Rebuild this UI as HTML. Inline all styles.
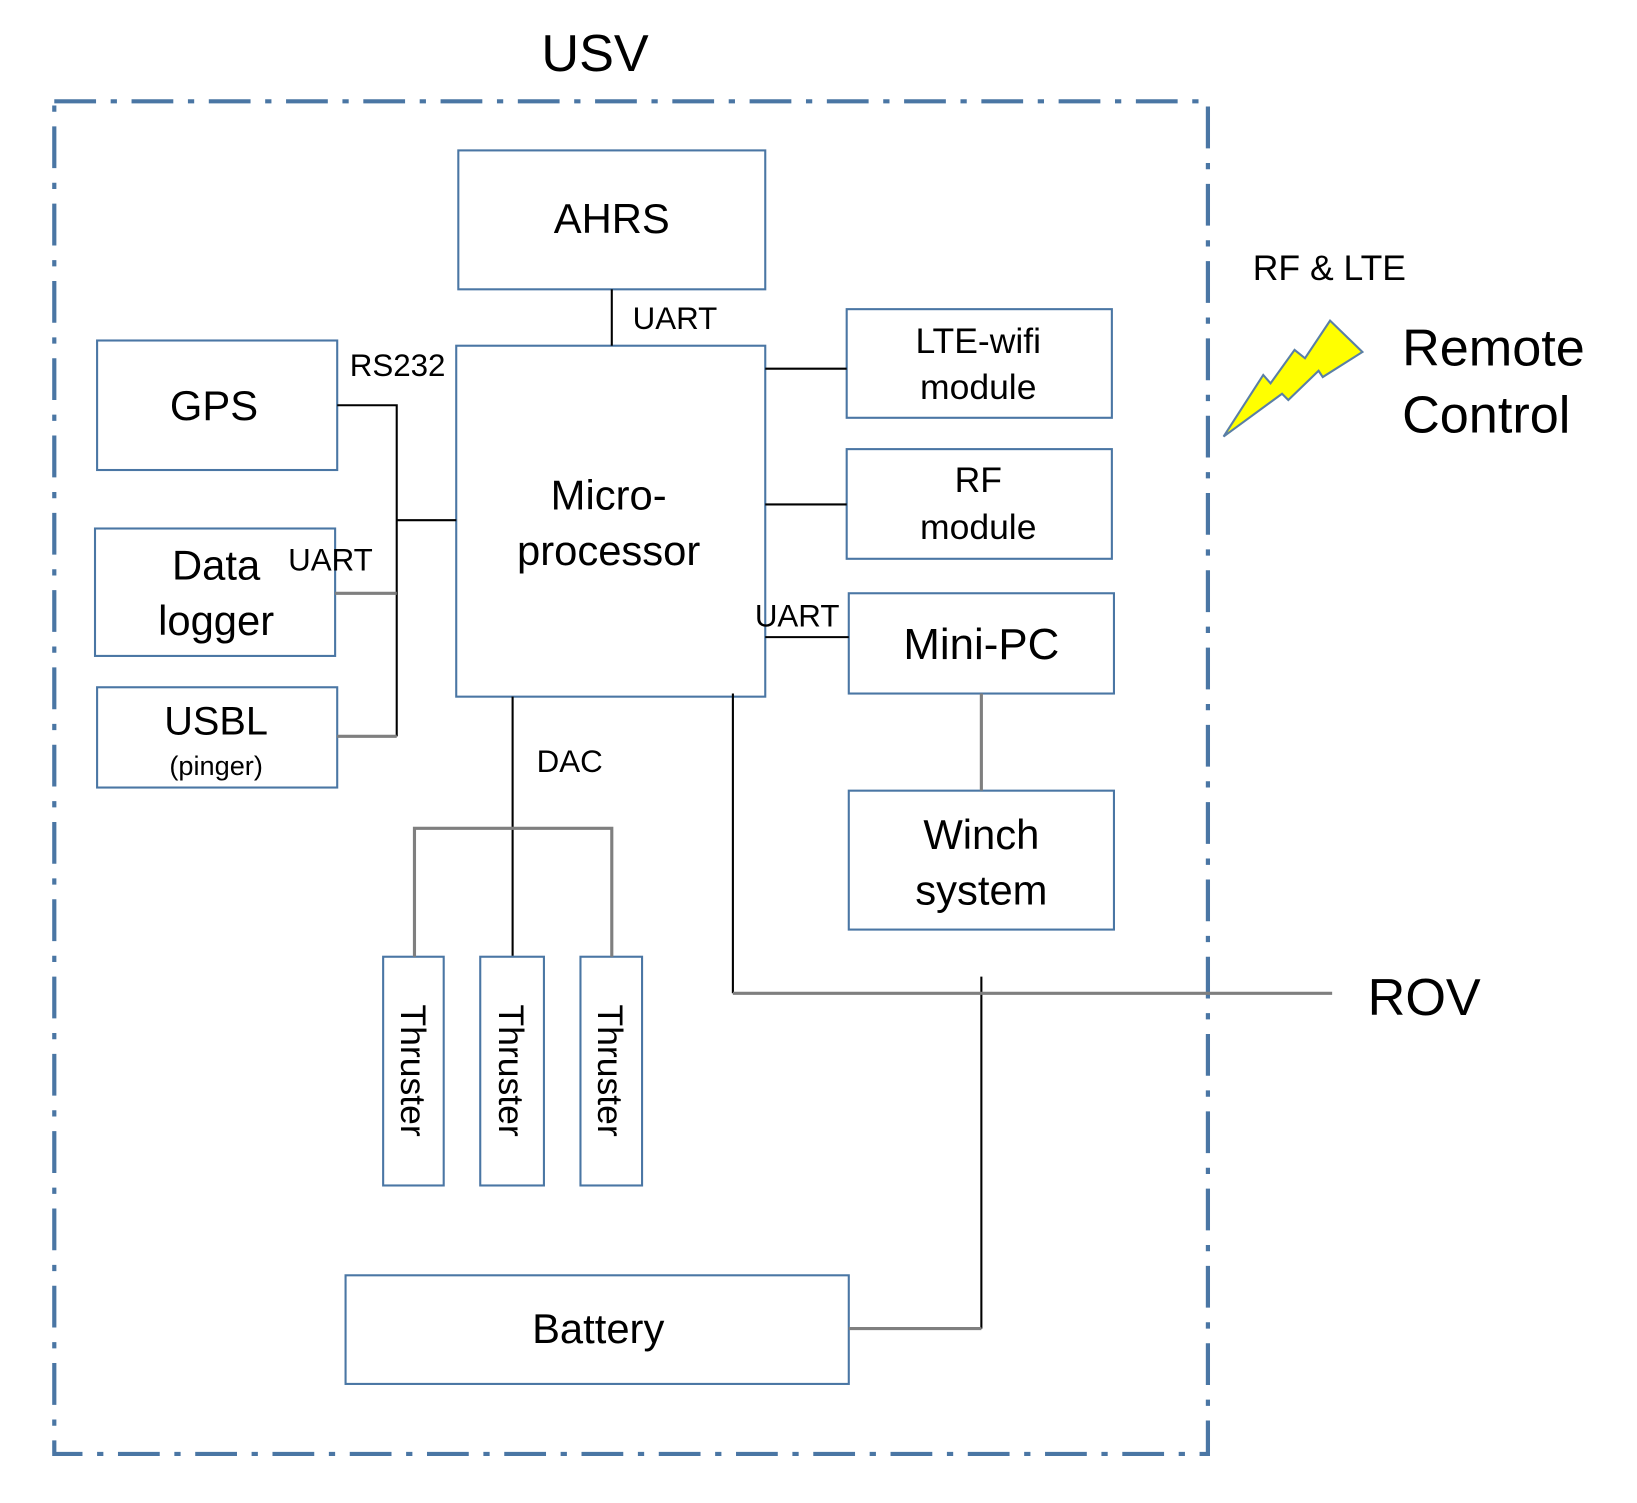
<!DOCTYPE html>
<html><head><meta charset="utf-8"><style>html,body{margin:0;padding:0;background:#fff}svg{display:block}</style></head>
<body>
<svg width="1637" height="1503" viewBox="0 0 1568 1439" preserveAspectRatio="none" xmlns="http://www.w3.org/2000/svg" font-family="Liberation Sans, DejaVu Sans, sans-serif">
<rect x="0" y="0" width="1568" height="1439" fill="#fff"/>
<text x="570" y="68" font-size="50" text-anchor="middle" fill="#000">USV</text>
<rect x="52" y="97" width="1105" height="1295" fill="none" stroke="#4a76a4" stroke-width="4" stroke-dasharray="40,14,6,14"/>
<g fill="#fff" stroke="#4a76a4" stroke-width="2">
<rect x="439" y="144" width="294" height="133"/>
<rect x="437" y="331" width="296" height="336"/>
<rect x="93" y="326" width="230" height="124"/>
<rect x="91" y="506" width="230" height="122"/>
<rect x="93" y="658" width="230" height="96"/>
<rect x="811" y="296" width="254" height="104"/>
<rect x="811" y="430" width="254" height="105"/>
<rect x="813" y="568" width="254" height="96"/>
<rect x="813" y="757" width="254" height="133"/>
<rect x="367" y="916" width="58" height="219"/>
<rect x="460" y="916" width="61" height="219"/>
<rect x="556" y="916" width="59" height="219"/>
<rect x="331" y="1221" width="482" height="104"/>
</g>
<g fill="none" stroke="#000" stroke-width="2">
<path d="M586 277V331"/>
<path d="M323 388H380V705M380 498H437"/>
<path d="M733 353H811M733 483H811M733 610H813"/>
<path d="M491 667V915"/>
<path d="M702 664V951"/>
<path d="M940 935V1272"/>
</g>
<g fill="none" stroke="#7f7f7f" stroke-width="3">
<path d="M321 568H380M323 705H380"/>
<path d="M940 664V757"/>
<path d="M397 916V793H586V916"/>
<path d="M702 951H1276"/>
<path d="M813 1272H940"/>
</g>
<polygon points="1172,418 1210,359 1217,367 1240,335 1250,343 1274,307 1305,337 1267,361 1263,355 1234,383 1228,377" fill="#ffff00" stroke="#5a7fa6" stroke-width="2"/>
<g fill="#000" text-anchor="middle">
<text x="586" y="223" font-size="40">AHRS</text>
<text x="583" y="488" font-size="40">Micro-</text>
<text x="583" y="541" font-size="40">processor</text>
<text x="205" y="402" font-size="40">GPS</text>
<text x="207" y="555" font-size="40">Data</text>
<text x="207" y="608" font-size="40">logger</text>
<text x="207" y="703" font-size="38">USBL</text>
<text x="207" y="742" font-size="26">(pinger)</text>
<text x="937" y="338" font-size="34">LTE-wifi</text>
<text x="937" y="382" font-size="34">module</text>
<text x="937" y="471" font-size="34">RF</text>
<text x="937" y="516" font-size="34">module</text>
<text x="940" y="631" font-size="42">Mini-PC</text>
<text x="940" y="813" font-size="40">Winch</text>
<text x="940" y="866" font-size="40">system</text>
<text x="573" y="1286" font-size="40">Battery</text>
</g>
<g fill="#000" font-size="30">
<text x="606" y="315">UART</text>
<text x="335" y="360">RS232</text>
<text x="276" y="546">UART</text>
<text x="723" y="600">UART</text>
<text x="514" y="739">DAC</text>
</g>
<g fill="#000" font-size="34">
<text transform="translate(384,1025) rotate(90)" text-anchor="middle">Thruster</text>
<text transform="translate(478,1025) rotate(90)" text-anchor="middle">Thruster</text>
<text transform="translate(573,1025) rotate(90)" text-anchor="middle">Thruster</text>
</g>
<text x="1200" y="268" font-size="34" fill="#000">RF &amp; LTE</text>
<text x="1343" y="350" font-size="50" fill="#000">Remote</text>
<text x="1343" y="414" font-size="50" fill="#000">Control</text>
<text x="1310" y="972" font-size="50" fill="#000">ROV</text>
</svg>
</body></html>
